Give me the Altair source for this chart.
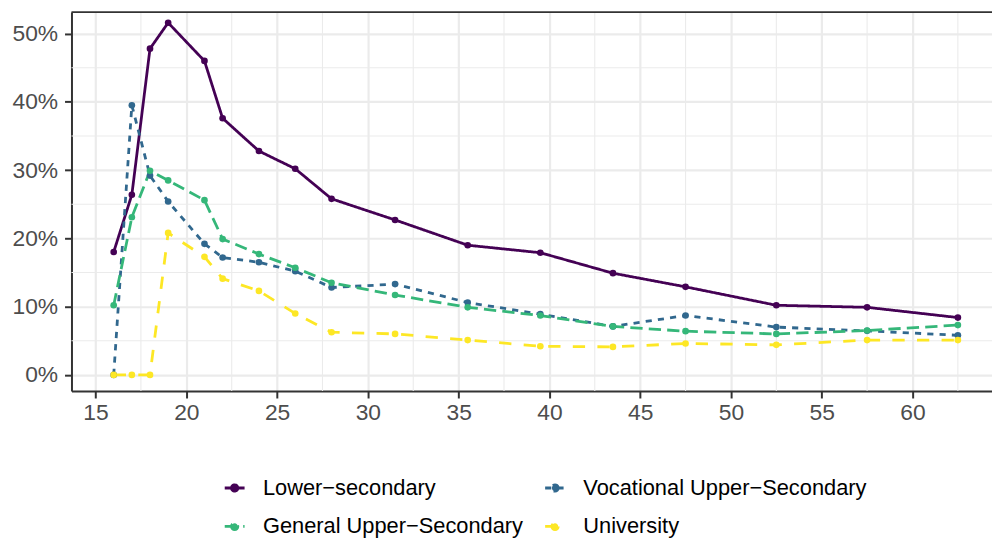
import altair as alt
import pandas as pd

# ---- data ----
ages = [16, 17, 18, 19, 21, 22, 24, 26, 28, 31.5, 35.5, 39.5, 43.5, 47.5, 52.5, 57.5, 62.5]
lower = [18.0, 26.4, 47.8, 51.6, 46.0, 37.6, 32.8, 30.2, 25.8, 22.7, 19.0, 17.9, 14.9, 12.9, 10.2, 9.9, 8.4]
vocational = [0.0, 39.5, 29.2, 25.4, 19.2, 17.2, 16.5, 15.2, 12.8, 13.3, 10.6, 8.9, 7.1, 8.7, 7.0, 6.45, 5.8]
general = [10.2, 23.1, 29.9, 28.5, 25.6, 19.9, 17.7, 15.7, 13.5, 11.7, 9.9, 8.7, 7.1, 6.4, 6.0, 6.5, 7.3]
university = [0.0, 0.0, 0.0, 20.8, 17.3, 14.1, 12.3, 9.0, 6.25, 6.0, 5.1, 4.2, 4.1, 4.6, 4.4, 5.1, 5.1]

groups = ["Lower\u2212secondary", "Vocational Upper\u2212Secondary",
          "General Upper\u2212Secondary", "University"]
colors = ["#440154", "#31688E", "#35B779", "#FDE725"]
dashes = [[1, 0], [6.2, 6.2], [12.4, 6.2], [12.4, 12.4]]

x_ticks = [15, 20, 25, 30, 35, 40, 45, 50, 55, 60]
x_minor = [17.5, 22.5, 27.5, 32.5, 37.5, 42.5, 47.5, 52.5, 57.5, 62.5]
y_ticks = [0, 0.1, 0.2, 0.3, 0.4, 0.5]
y_minor = [0.05, 0.15, 0.25, 0.35, 0.45]

rows = []
for g, vals in zip(groups, [lower, vocational, general, university]):
    for a, v in zip(ages, vals):
        rows.append({"age": a, "rate": v / 100.0, "edu": g})
df = pd.DataFrame(rows)

W, H = 928, 382
FONT = "Liberation Sans"

xscale = alt.Scale(domain=[13.675, 64.38], nice=False, zero=False)
yscale = alt.Scale(domain=[-0.02369, 0.53154], nice=False, zero=False)
xaxis = alt.Axis(values=x_ticks, title=None, grid=True, labelPadding=4)
yaxis = alt.Axis(values=y_ticks, title=None, grid=True, format=".0%", labelPadding=7)

minor_x = alt.Chart(pd.DataFrame({"mx": x_minor})).mark_rule(
    color="#EBEBEB", strokeWidth=1.1
).encode(
    x=alt.X("mx:Q", scale=xscale, axis=xaxis),
    y=alt.value(0), y2=alt.value(H),
)

minor_y = alt.Chart(pd.DataFrame({"my": y_minor})).mark_rule(
    color="#EBEBEB", strokeWidth=1.1
).encode(
    y=alt.Y("my:Q", scale=yscale, axis=yaxis),
    x=alt.value(0), x2=alt.value(W),
)

# legend key: short line with a dot in the middle (like ggplot's line+point key)
key_path = ("M-1,0L1,0"
            "M0.32,0A0.32,0.32,0,1,1,-0.32,0A0.32,0.32,0,1,1,0.32,0Z")

legend = alt.Legend(
    orient="none", legendX=153, legendY=468, columns=2, direction="horizontal",
    title=None,
    symbolType=key_path, symbolSize=400, symbolStrokeWidth=2.8,
    labelFont=FONT, labelFontSize=22, labelColor="#000000", labelLimit=600,
    labelOffset=17, columnPadding=15, rowPadding=16, padding=0,
)

lines = alt.Chart(df).mark_line(strokeWidth=2.8, strokeCap="butt").encode(
    x=alt.X("age:Q", scale=xscale, axis=xaxis),
    y=alt.Y("rate:Q", scale=yscale, axis=yaxis),
    stroke=alt.Stroke("edu:N", scale=alt.Scale(domain=groups, range=colors), legend=legend),
    strokeDash=alt.StrokeDash("edu:N", scale=alt.Scale(domain=groups, range=dashes), legend=legend),
)

points = alt.Chart(df).mark_point(filled=True, size=45, strokeWidth=0, opacity=1).encode(
    x=alt.X("age:Q", scale=xscale, axis=xaxis),
    y=alt.Y("rate:Q", scale=yscale, axis=yaxis),
    fill=alt.Fill("edu:N", scale=alt.Scale(domain=groups, range=colors), legend=legend),
)

top_border = alt.Chart(pd.DataFrame({"a": [0]})).mark_rule(
    color="#333333", strokeWidth=2
).encode(x=alt.value(0), x2=alt.value(W), y=alt.value(0))

chart = alt.layer(minor_x, minor_y, lines, points, top_border).properties(
    width=W, height=H,
    autosize=alt.AutoSizeParams(type="none"),
    padding={"left": 64, "top": 2, "right": 0, "bottom": 147},
).configure_view(stroke=None).configure_axis(
    labelFont=FONT, labelFontSize=23, labelColor="#4D4D4D",
    tickColor="#333333", tickWidth=2, tickSize=7,
    domainColor="#333333", domainWidth=2,
    gridColor="#EBEBEB", gridWidth=2.2,
)

chart.save("out.html", embed_options={"renderer": "svg", "actions": False})
